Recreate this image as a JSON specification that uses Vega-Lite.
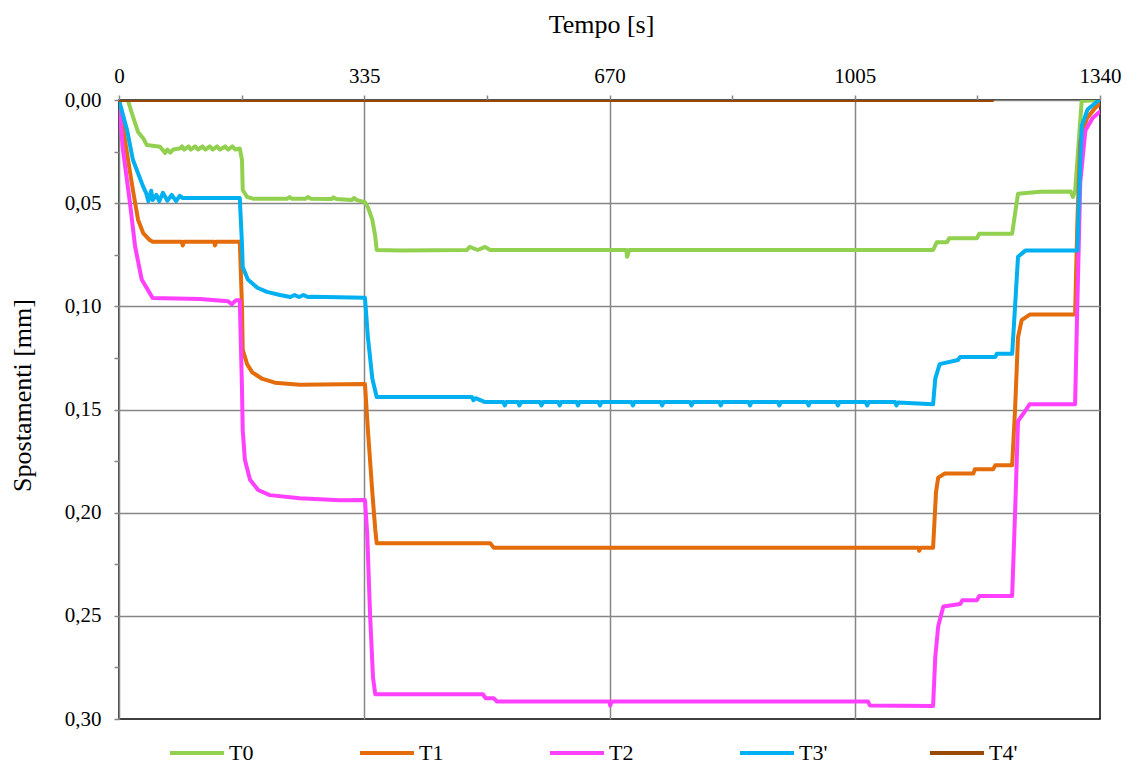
{
  "$schema": "https://vega.github.io/schema/vega-lite/v6.json",
  "width": 981,
  "height": 619,
  "autosize": "none",
  "padding": {"left": 119, "top": 100, "right": 29, "bottom": 51},
  "background": "white",
  "config": {"font": "Liberation Serif", "view": {"stroke": "#000000", "strokeWidth": 1.5}},
  "data": {"values": [
    {"s":"T0","t":0,"v":0},{"s":"T0","t":12,"v":0},{"s":"T0","t":19,"v":0.008},{"s":"T0","t":26,"v":0.0155},{"s":"T0","t":33,"v":0.0185},{"s":"T0","t":38,"v":0.0218},{"s":"T0","t":56,"v":0.0227},{"s":"T0","t":63,"v":0.0257},{"s":"T0","t":66,"v":0.024},{"s":"T0","t":70,"v":0.0255},{"s":"T0","t":74,"v":0.024},{"s":"T0","t":83,"v":0.0235},{"s":"T0","t":86,"v":0.0225},{"s":"T0","t":89,"v":0.024},{"s":"T0","t":95,"v":0.0225},{"s":"T0","t":98,"v":0.024},{"s":"T0","t":104,"v":0.0225},{"s":"T0","t":108,"v":0.024},{"s":"T0","t":114,"v":0.0225},{"s":"T0","t":118,"v":0.024},{"s":"T0","t":124,"v":0.0225},{"s":"T0","t":128,"v":0.024},{"s":"T0","t":134,"v":0.0225},{"s":"T0","t":138,"v":0.024},{"s":"T0","t":145,"v":0.0225},{"s":"T0","t":149,"v":0.024},{"s":"T0","t":155,"v":0.0225},{"s":"T0","t":159,"v":0.024},{"s":"T0","t":165,"v":0.0235},{"s":"T0","t":168,"v":0.029},{"s":"T0","t":169,"v":0.0436},{"s":"T0","t":175,"v":0.047},{"s":"T0","t":183,"v":0.0478},{"s":"T0","t":230,"v":0.0478},{"s":"T0","t":233,"v":0.047},{"s":"T0","t":236,"v":0.0478},{"s":"T0","t":255,"v":0.0478},{"s":"T0","t":258,"v":0.047},{"s":"T0","t":262,"v":0.0478},{"s":"T0","t":290,"v":0.048},{"s":"T0","t":293,"v":0.0472},{"s":"T0","t":297,"v":0.048},{"s":"T0","t":318,"v":0.0485},{"s":"T0","t":321,"v":0.0475},{"s":"T0","t":325,"v":0.0485},{"s":"T0","t":336,"v":0.0495},{"s":"T0","t":340,"v":0.052},{"s":"T0","t":346,"v":0.058},{"s":"T0","t":350,"v":0.066},{"s":"T0","t":352,"v":0.0727},{"s":"T0","t":384,"v":0.073},{"s":"T0","t":475,"v":0.0727},{"s":"T0","t":479,"v":0.0712},{"s":"T0","t":490,"v":0.0727},{"s":"T0","t":500,"v":0.0712},{"s":"T0","t":507,"v":0.0727},{"s":"T0","t":657,"v":0.0727},{"s":"T0","t":693,"v":0.0727},{"s":"T0","t":694,"v":0.076},{"s":"T0","t":697,"v":0.0727},{"s":"T0","t":930,"v":0.0727},{"s":"T0","t":1112,"v":0.0727},{"s":"T0","t":1117,"v":0.069},{"s":"T0","t":1131,"v":0.0689},{"s":"T0","t":1134,"v":0.067},{"s":"T0","t":1172,"v":0.067},{"s":"T0","t":1175,"v":0.0648},{"s":"T0","t":1220,"v":0.0648},{"s":"T0","t":1224,"v":0.055},{"s":"T0","t":1228,"v":0.0454},{"s":"T0","t":1258,"v":0.0445},{"s":"T0","t":1300,"v":0.0444},{"s":"T0","t":1303,"v":0.047},{"s":"T0","t":1306,"v":0.0444},{"s":"T0","t":1309,"v":0.03},{"s":"T0","t":1313,"v":0.01},{"s":"T0","t":1315,"v":0.0005},{"s":"T0","t":1340,"v":0},
    {"s":"T1","t":0,"v":0},{"s":"T1","t":11,"v":0.026},{"s":"T1","t":19,"v":0.0436},{"s":"T1","t":26,"v":0.058},{"s":"T1","t":33,"v":0.0645},{"s":"T1","t":42,"v":0.0679},{"s":"T1","t":46,"v":0.0687},{"s":"T1","t":86,"v":0.0687},{"s":"T1","t":87,"v":0.0705},{"s":"T1","t":89,"v":0.0687},{"s":"T1","t":130,"v":0.0687},{"s":"T1","t":131,"v":0.0705},{"s":"T1","t":133,"v":0.0687},{"s":"T1","t":165,"v":0.0687},{"s":"T1","t":168,"v":0.1},{"s":"T1","t":169,"v":0.121},{"s":"T1","t":175,"v":0.128},{"s":"T1","t":182,"v":0.132},{"s":"T1","t":195,"v":0.135},{"s":"T1","t":213,"v":0.137},{"s":"T1","t":247,"v":0.138},{"s":"T1","t":336,"v":0.1377},{"s":"T1","t":340,"v":0.16},{"s":"T1","t":346,"v":0.19},{"s":"T1","t":350,"v":0.208},{"s":"T1","t":352,"v":0.2148},{"s":"T1","t":507,"v":0.2148},{"s":"T1","t":512,"v":0.217},{"s":"T1","t":794,"v":0.217},{"s":"T1","t":1092,"v":0.217},{"s":"T1","t":1093,"v":0.2185},{"s":"T1","t":1095,"v":0.217},{"s":"T1","t":1112,"v":0.217},{"s":"T1","t":1116,"v":0.19},{"s":"T1","t":1119,"v":0.183},{"s":"T1","t":1128,"v":0.181},{"s":"T1","t":1167,"v":0.181},{"s":"T1","t":1169,"v":0.179},{"s":"T1","t":1194,"v":0.179},{"s":"T1","t":1197,"v":0.177},{"s":"T1","t":1220,"v":0.177},{"s":"T1","t":1224,"v":0.15},{"s":"T1","t":1228,"v":0.115},{"s":"T1","t":1233,"v":0.1067},{"s":"T1","t":1244,"v":0.104},{"s":"T1","t":1306,"v":0.104},{"s":"T1","t":1309,"v":0.06},{"s":"T1","t":1313,"v":0.02},{"s":"T1","t":1322,"v":0.009},{"s":"T1","t":1333,"v":0.004},{"s":"T1","t":1340,"v":0.0015},
    {"s":"T2","t":0,"v":0},{"s":"T2","t":5,"v":0.023},{"s":"T2","t":15,"v":0.05},{"s":"T2","t":22,"v":0.071},{"s":"T2","t":31,"v":0.087},{"s":"T2","t":42,"v":0.0936},{"s":"T2","t":46,"v":0.096},{"s":"T2","t":111,"v":0.0965},{"s":"T2","t":149,"v":0.0975},{"s":"T2","t":154,"v":0.099},{"s":"T2","t":160,"v":0.097},{"s":"T2","t":165,"v":0.097},{"s":"T2","t":168,"v":0.14},{"s":"T2","t":169,"v":0.16},{"s":"T2","t":172,"v":0.1745},{"s":"T2","t":179,"v":0.184},{"s":"T2","t":190,"v":0.189},{"s":"T2","t":206,"v":0.1915},{"s":"T2","t":247,"v":0.193},{"s":"T2","t":302,"v":0.194},{"s":"T2","t":336,"v":0.1939},{"s":"T2","t":339,"v":0.21},{"s":"T2","t":343,"v":0.25},{"s":"T2","t":347,"v":0.28},{"s":"T2","t":350,"v":0.288},{"s":"T2","t":497,"v":0.288},{"s":"T2","t":501,"v":0.29},{"s":"T2","t":512,"v":0.29},{"s":"T2","t":516,"v":0.2915},{"s":"T2","t":670,"v":0.2915},{"s":"T2","t":671,"v":0.2935},{"s":"T2","t":673,"v":0.2915},{"s":"T2","t":1023,"v":0.2915},{"s":"T2","t":1026,"v":0.2935},{"s":"T2","t":1112,"v":0.2937},{"s":"T2","t":1115,"v":0.27},{"s":"T2","t":1119,"v":0.255},{"s":"T2","t":1126,"v":0.2455},{"s":"T2","t":1149,"v":0.2443},{"s":"T2","t":1152,"v":0.2424},{"s":"T2","t":1172,"v":0.2424},{"s":"T2","t":1175,"v":0.2404},{"s":"T2","t":1220,"v":0.2404},{"s":"T2","t":1224,"v":0.2},{"s":"T2","t":1228,"v":0.1556},{"s":"T2","t":1238,"v":0.1506},{"s":"T2","t":1244,"v":0.1474},{"s":"T2","t":1306,"v":0.1474},{"s":"T2","t":1309,"v":0.1},{"s":"T2","t":1313,"v":0.04},{"s":"T2","t":1320,"v":0.0148},{"s":"T2","t":1330,"v":0.0087},{"s":"T2","t":1340,"v":0.0056},
    {"s":"T3'","t":0,"v":0},{"s":"T3'","t":11,"v":0.0145},{"s":"T3'","t":19,"v":0.029},{"s":"T3'","t":26,"v":0.0355},{"s":"T3'","t":33,"v":0.042},{"s":"T3'","t":37,"v":0.045},{"s":"T3'","t":40,"v":0.049},{"s":"T3'","t":44,"v":0.044},{"s":"T3'","t":46,"v":0.0485},{"s":"T3'","t":51,"v":0.046},{"s":"T3'","t":55,"v":0.049},{"s":"T3'","t":60,"v":0.045},{"s":"T3'","t":66,"v":0.0488},{"s":"T3'","t":72,"v":0.046},{"s":"T3'","t":78,"v":0.049},{"s":"T3'","t":83,"v":0.0465},{"s":"T3'","t":87,"v":0.0475},{"s":"T3'","t":165,"v":0.0475},{"s":"T3'","t":168,"v":0.07},{"s":"T3'","t":169,"v":0.081},{"s":"T3'","t":176,"v":0.087},{"s":"T3'","t":189,"v":0.091},{"s":"T3'","t":202,"v":0.093},{"s":"T3'","t":220,"v":0.0945},{"s":"T3'","t":234,"v":0.0955},{"s":"T3'","t":240,"v":0.0945},{"s":"T3'","t":246,"v":0.0955},{"s":"T3'","t":252,"v":0.0945},{"s":"T3'","t":258,"v":0.0955},{"s":"T3'","t":264,"v":0.0953},{"s":"T3'","t":336,"v":0.0959},{"s":"T3'","t":340,"v":0.115},{"s":"T3'","t":346,"v":0.135},{"s":"T3'","t":352,"v":0.1439},{"s":"T3'","t":482,"v":0.1439},{"s":"T3'","t":484,"v":0.1455},{"s":"T3'","t":487,"v":0.1445},{"s":"T3'","t":500,"v":0.1464},{"s":"T3'","t":525,"v":0.1464},{"s":"T3'","t":527,"v":0.148},{"s":"T3'","t":529,"v":0.1464},{"s":"T3'","t":545,"v":0.1464},{"s":"T3'","t":547,"v":0.148},{"s":"T3'","t":549,"v":0.1464},{"s":"T3'","t":575,"v":0.1464},{"s":"T3'","t":577,"v":0.148},{"s":"T3'","t":579,"v":0.1464},{"s":"T3'","t":600,"v":0.1464},{"s":"T3'","t":602,"v":0.148},{"s":"T3'","t":604,"v":0.1464},{"s":"T3'","t":625,"v":0.1464},{"s":"T3'","t":627,"v":0.148},{"s":"T3'","t":629,"v":0.1464},{"s":"T3'","t":655,"v":0.1464},{"s":"T3'","t":657,"v":0.148},{"s":"T3'","t":659,"v":0.1464},{"s":"T3'","t":700,"v":0.1464},{"s":"T3'","t":702,"v":0.148},{"s":"T3'","t":704,"v":0.1464},{"s":"T3'","t":740,"v":0.1464},{"s":"T3'","t":742,"v":0.148},{"s":"T3'","t":744,"v":0.1464},{"s":"T3'","t":780,"v":0.1464},{"s":"T3'","t":782,"v":0.148},{"s":"T3'","t":784,"v":0.1464},{"s":"T3'","t":820,"v":0.1464},{"s":"T3'","t":822,"v":0.148},{"s":"T3'","t":824,"v":0.1464},{"s":"T3'","t":860,"v":0.1464},{"s":"T3'","t":862,"v":0.148},{"s":"T3'","t":864,"v":0.1464},{"s":"T3'","t":900,"v":0.1464},{"s":"T3'","t":902,"v":0.148},{"s":"T3'","t":904,"v":0.1464},{"s":"T3'","t":940,"v":0.1464},{"s":"T3'","t":942,"v":0.148},{"s":"T3'","t":944,"v":0.1464},{"s":"T3'","t":980,"v":0.1464},{"s":"T3'","t":982,"v":0.148},{"s":"T3'","t":984,"v":0.1464},{"s":"T3'","t":1020,"v":0.1464},{"s":"T3'","t":1022,"v":0.148},{"s":"T3'","t":1024,"v":0.1464},{"s":"T3'","t":1060,"v":0.1464},{"s":"T3'","t":1062,"v":0.148},{"s":"T3'","t":1064,"v":0.1466},{"s":"T3'","t":1112,"v":0.1475},{"s":"T3'","t":1115,"v":0.135},{"s":"T3'","t":1121,"v":0.128},{"s":"T3'","t":1146,"v":0.126},{"s":"T3'","t":1149,"v":0.1245},{"s":"T3'","t":1197,"v":0.1245},{"s":"T3'","t":1199,"v":0.123},{"s":"T3'","t":1220,"v":0.123},{"s":"T3'","t":1224,"v":0.1},{"s":"T3'","t":1228,"v":0.076},{"s":"T3'","t":1238,"v":0.073},{"s":"T3'","t":1309,"v":0.073},{"s":"T3'","t":1312,"v":0.04},{"s":"T3'","t":1315,"v":0.0127},{"s":"T3'","t":1323,"v":0.0046},{"s":"T3'","t":1337,"v":0.0005},{"s":"T3'","t":1340,"v":0},
    {"s":"T4'","t":0,"v":0},{"s":"T4'","t":1193,"v":0}
  ]},
  "mark": {"type": "line", "strokeWidth": 4, "strokeJoin": "round", "strokeCap": "round", "clip": true},
  "encoding": {
    "x": {
      "field": "t", "type": "quantitative",
      "scale": {"domain": [0, 1340], "nice": false, "zero": false},
      "axis": {
        "orient": "top", "zindex": 0,
        "values": [0, 167.5, 335, 502.5, 670, 837.5, 1005, 1172.5, 1340],
        "labelExpr": "datum.value % 335 == 0 ? format(datum.value, 'd') : ''",
        "labelFont": "Liberation Serif", "labelFontSize": 21, "labelColor": "#000000", "labelPadding": 9,
        "labelFlush": false, "labelOverlap": false,
        "tickSize": 5, "tickColor": "#868686", "tickWidth": 1.5,
        "domainColor": "#868686", "domainWidth": 1.5,
        "grid": true, "gridColor": "#868686", "gridWidth": 1.5,
        "gridOpacity": {"condition": {"test": "datum.value % 335 != 0 || datum.value == 0 || datum.value == 1340", "value": 0}, "value": 1},
        "title": "Tempo [s]", "titleFont": "Liberation Serif", "titleFontSize": 26, "titleFontWeight": "normal", "titleColor": "#000000",
        "titleX": 482, "titleY": -68, "titleBaseline": "alphabetic", "titleAlign": "center"
      }
    },
    "y": {
      "field": "v", "type": "quantitative",
      "scale": {"domain": [0, 0.3], "reverse": true, "nice": false, "zero": false},
      "axis": {
        "zindex": 0,
        "values": [0, 0.025, 0.05, 0.075, 0.1, 0.125, 0.15, 0.175, 0.2, 0.225, 0.25, 0.275, 0.3],
        "labelExpr": "round(datum.value * 1000) % 50 == 0 ? replace(format(datum.value, '.2f'), '.', ',') : ''",
        "labelFont": "Liberation Serif", "labelFontSize": 21, "labelColor": "#000000", "labelPadding": 13,
        "labelFlush": false, "labelOverlap": false,
        "tickSize": 5, "tickColor": "#868686", "tickWidth": 1.5,
        "domainColor": "#868686", "domainWidth": 1.5,
        "grid": true, "gridColor": "#868686", "gridWidth": 1.5,
        "gridOpacity": {"condition": {"test": "round(datum.value * 1000) % 50 != 0 || datum.value == 0 || datum.value == 0.3", "value": 0}, "value": 1},
        "title": "Spostamenti [mm]", "titleFont": "Liberation Serif", "titleFontSize": 26, "titleFontWeight": "normal", "titleColor": "#000000",
        "titleX": -97, "titleY": 295, "titleAngle": 270, "titleBaseline": "middle", "titleAlign": "center"
      }
    },
    "color": {
      "field": "s", "type": "nominal",
      "scale": {"domain": ["T0", "T1", "T2", "T3'", "T4'"], "range": ["#92D050", "#E46C0A", "#FF40FF", "#00B0F0", "#984807"]},
      "legend": {
        "orient": "none", "legendX": 49, "legendY": 624, "direction": "horizontal", "columns": 5,
        "title": null, "symbolType": "stroke", "symbolSize": 2916, "symbolStrokeWidth": 4,
        "labelFont": "Liberation Serif", "labelFontSize": 22, "labelColor": "#000000", "labelOffset": 3,
        "columnPadding": 94, "gridAlign": "all", "padding": 0
      }
    }
  }
}
